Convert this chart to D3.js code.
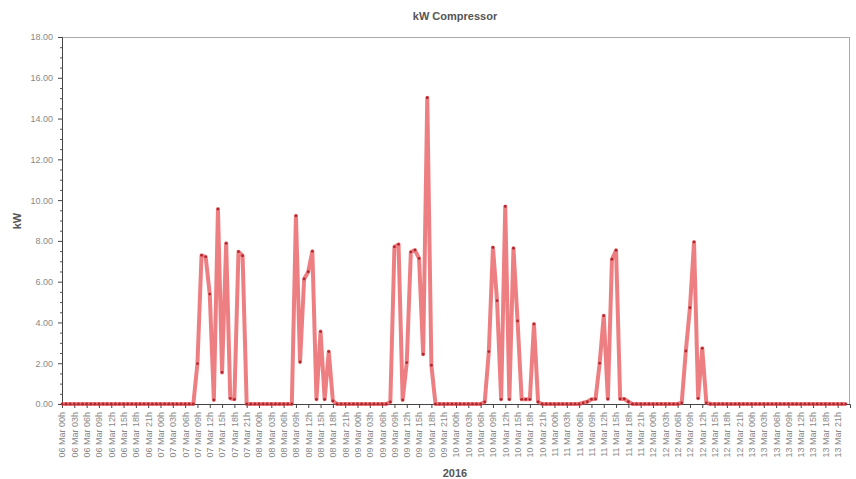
<!DOCTYPE html>
<html>
<head>
<meta charset="utf-8">
<script src="https://cdn.jsdelivr.net/npm/d3@7"></script>
<style>
  body { margin: 0; background: #fff; }
  text { font-family: Arial, "Liberation Sans", sans-serif; }
</style>
</head>
<body>
<div id="chart"></div>
<script>
// hourly kW readings, 06 Mar 2016 00h .. 13 Mar 2016 23h (one row per day)
var startDay = new Date(2016, 2, 6, 0);
var endDay = new Date(2016, 2, 14, 0);
var kwValues = [
  0,0,0,0,0,0,0,0,0,0,0,0,0,0,0,0,0,0,0,0,0,0,0,0,
  0,0,0,0,0,0,0,0,0,1.98,7.29,7.22,5.39,0.2,9.56,1.55,7.88,0.28,0.23,7.47,7.27,0,0,0,
  0,0,0,0,0,0,0,0,0,9.23,2.06,6.13,6.49,7.49,0.23,3.55,0.23,2.57,0.15,0,0,0,0,0,
  0,0,0,0,0,0,0,0,0.1,7.71,7.83,0.2,2.03,7.45,7.55,7.14,2.44,15.02,1.9,0,0,0,0,0,
  0,0,0,0,0,0,0,0.1,2.57,7.68,5.07,0.23,9.69,0.23,7.64,4.07,0.23,0.23,0.23,3.92,0.1,0,0,0,
  0,0,0,0,0,0,0,0.06,0.11,0.23,0.25,2.0,4.33,0.25,7.1,7.54,0.25,0.25,0.11,0,0,0,0,0,
  0,0,0,0,0,0,0,0.06,2.6,4.72,7.94,0.28,2.73,0.06,0,0,0,0,0,0,0,0,0,0,
  0,0,0,0,0,0,0,0,0,0,0,0,0,0,0,0,0,0,0,0,0,0,0,0
];
var yTicks = [0, 2, 4, 6, 8, 10, 12, 14, 16, 18];
var titleText = "kW Compressor";
var yLabel = "kW";
var xLabel = "2016";

var width = 856, height = 479;
var mLeft = 62, mRight = 849, mTop = 37, mBottom = 404;

var data = kwValues.map(function(v, i) {
  return { t: d3.timeHour.offset(startDay, i), v: v };
});

var svg = d3.select("#chart").append("svg")
  .attr("width", width).attr("height", height);

var x = d3.scaleTime().domain([startDay, endDay]).range([mLeft, mRight + 1]);
var y = d3.scaleLinear().domain([0, 18]).range([mBottom, mTop]);

// frame (top + right)
svg.append("line").attr("x1", mLeft).attr("y1", mTop + 0.5).attr("x2", mRight).attr("y2", mTop + 0.5)
  .attr("stroke", "#aaa").attr("stroke-width", 1);
svg.append("line").attr("x1", mRight + 0.5).attr("y1", mTop).attr("x2", mRight + 0.5).attr("y2", mBottom)
  .attr("stroke", "#aaa").attr("stroke-width", 1);

// minor y ticks
var minor = d3.range(0, 18.01, 0.5).filter(function(d) { return d % 2 !== 0; });
svg.append("g").selectAll("line").data(minor).enter().append("line")
  .attr("x1", mLeft - 2).attr("x2", mLeft)
  .attr("y1", function(d) { return y(d) + 0.5; }).attr("y2", function(d) { return y(d) + 0.5; })
  .attr("stroke", "#555");

var yAxis = svg.append("g").attr("transform", "translate(" + mLeft + ",0)")
  .call(d3.axisLeft(y).tickValues(yTicks).tickFormat(d3.format(".2f")).tickSize(4).tickPadding(5));
yAxis.select(".domain").attr("stroke", "#444");
yAxis.selectAll(".tick line").attr("stroke", "#444");
yAxis.selectAll("text").attr("fill", "#888").style("font-size", "9px");

var xTicks = d3.timeHour.every(3).range(startDay, endDay);
var xAxis = svg.append("g").attr("transform", "translate(0," + mBottom + ")")
  .call(d3.axisBottom(x).tickValues(xTicks).tickFormat(d3.timeFormat("%d %b %Hh")).tickSize(4));
xAxis.select(".domain").attr("stroke", "#444");
xAxis.selectAll(".tick line").attr("stroke", "#444");
xAxis.selectAll("text")
  .attr("fill", "#888").style("font-size", "9px")
  .attr("text-anchor", "end")
  .attr("transform", "rotate(-90)")
  .attr("x", -8).attr("y", -3.5).attr("dy", "0.71em");

// series
var line = d3.line().x(function(d) { return x(d.t); }).y(function(d) { return y(d.v); });
svg.append("path").datum(data)
  .attr("d", line)
  .attr("fill", "none")
  .attr("stroke", "#e5484d")
  .attr("stroke-opacity", 0.7)
  .attr("stroke-width", 4)
  .attr("stroke-linejoin", "round");

svg.append("g").selectAll("circle").data(data).enter().append("circle")
  .attr("cx", function(d) { return x(d.t); })
  .attr("cy", function(d) { return y(d.v); })
  .attr("r", 1.4)
  .attr("fill", "#b0262c");

// titles
svg.append("text").attr("x", 455).attr("y", 20).attr("text-anchor", "middle")
  .attr("fill", "#555").style("font-size", "11px").style("font-weight", "bold").text(titleText);
svg.append("text").attr("transform", "translate(21,221) rotate(-90)").attr("text-anchor", "middle")
  .attr("fill", "#555").style("font-size", "11px").style("font-weight", "bold").text(yLabel);
svg.append("text").attr("x", 455).attr("y", 477).attr("text-anchor", "middle")
  .attr("fill", "#555").style("font-size", "11px").style("font-weight", "bold").text(xLabel);
</script>
</body>
</html>
